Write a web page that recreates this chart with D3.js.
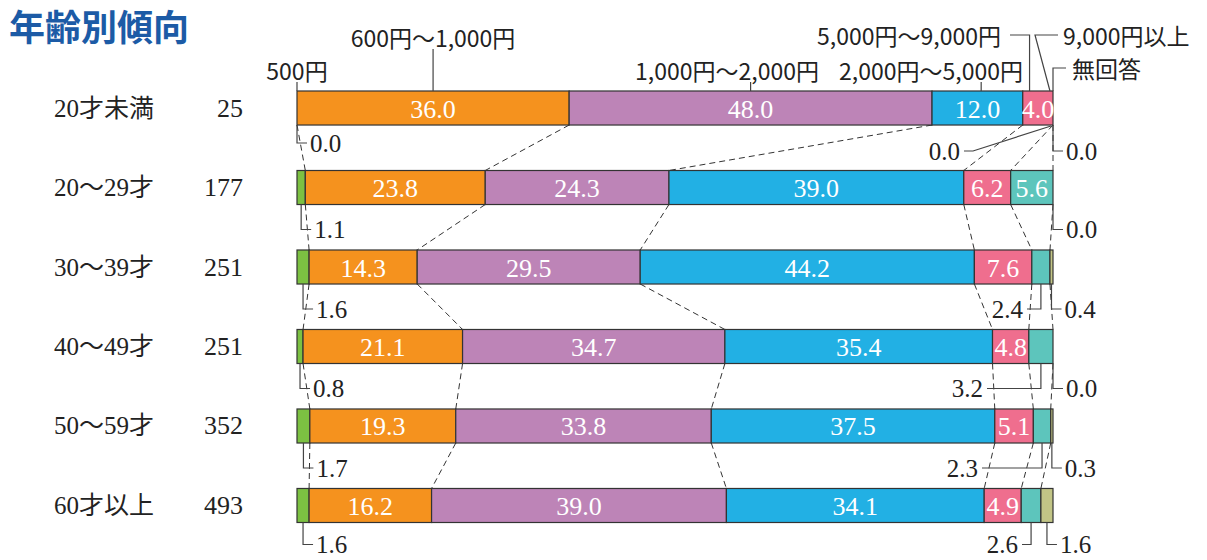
<!DOCTYPE html>
<html><head><meta charset="utf-8">
<script src="https://cdn.jsdelivr.net/npm/d3@7"></script>
<style>body{margin:0;background:#fff}</style>
</head><body>
<svg id="chart" width="1207" height="560"></svg>
<script>
// ---- data ----
const title = "年齢別傾向";
const rows = ["20才未満", "20～29才", "30～39才", "40～49才", "50～59才", "60才以上"];
const counts = [25, 177, 251, 251, 352, 493];
const seriesNames = ["500円", "600円～1,000円", "1,000円～2,000円", "2,000円～5,000円", "5,000円～9,000円", "9,000円以上", "無回答"];
const v500 = [0.0, 1.1, 1.6, 0.8, 1.7, 1.6];
const v600to1000 = [36.0, 23.8, 14.3, 21.1, 19.3, 16.2];
const v1000to2000 = [48.0, 24.3, 29.5, 34.7, 33.8, 39.0];
const v2000to5000 = [12.0, 39.0, 44.2, 35.4, 37.5, 34.1];
const v5000to9000 = [4.0, 6.2, 7.6, 4.8, 5.1, 4.9];
const v9000plus = [0.0, 5.6, 2.4, 3.2, 2.3, 2.6];
const vNoAnswer = [0.0, 0.0, 0.4, 0.0, 0.3, 1.6];
const seriesValues = [v500, v600to1000, v1000to2000, v2000to5000, v5000to9000, v9000plus, vNoAnswer];

// ---- styles / layout ----
const colors = ["#7cc142", "#f5921e", "#bd84b7", "#22b0e4", "#ef6e8e", "#5dc5bc", "#c2c586"];
const serif = "'Liberation Serif', 'Noto Sans CJK JP', serif";
const sans = "'Noto Sans CJK JP', 'Noto Sans', sans-serif";

// header legend labels: text position + leader (leader target in % of scale)
const headerLayout = [
  {tx: 297, ty: 70, anchor: "middle", kind: "v", pct: 0, top: 82},
  {tx: 433, ty: 37, anchor: "middle", kind: "v", pct: 18, top: 49},
  {tx: 727, ty: 70, anchor: "middle", kind: "v", pct: 60, top: 82},
  {tx: 931, ty: 70, anchor: "middle", kind: "v", pct: 90.5, top: 82},
  {tx: 1001, ty: 35, anchor: "end", kind: "elbowL", pct: 96.9, hx: 1010},
  {tx: 1063, ty: 35, anchor: "start", kind: "diag", pct: 99.6, hx: 1058, bx: 1035},
  {tx: 1072, ty: 68, anchor: "start", kind: "elbowR", pct: 100, hx: 1066}
];
// small value callouts below bars
const callouts = [
  {row: 0, s: 0, type: "right", dy: 18},
  {row: 1, s: 0, type: "right", dy: 25},
  {row: 2, s: 0, type: "right", dy: 25},
  {row: 3, s: 0, type: "right", dy: 25},
  {row: 4, s: 0, type: "right", dy: 25},
  {row: 5, s: 0, type: "right", dy: 22},
  {row: 0, s: 5, type: "diag", dy: 26, tx: 960, bx: 973},
  {row: 2, s: 5, type: "left", dy: 25, tx: 1023},
  {row: 3, s: 5, type: "left", dy: 25, tx: 983},
  {row: 4, s: 5, type: "left", dy: 25, tx: 978},
  {row: 5, s: 5, type: "left", dy: 22, tx: 1018},
  {row: 0, s: 6, type: "right", dy: 26},
  {row: 1, s: 6, type: "right", dy: 25},
  {row: 2, s: 6, type: "right", dy: 25},
  {row: 3, s: 6, type: "right", dy: 25},
  {row: 4, s: 6, type: "right", dy: 25},
  {row: 5, s: 6, type: "right", dy: 22}
];

const svg = d3.select("#chart");
svg.append("rect").attr("width", 1207).attr("height", 560).attr("fill", "#fff");

const x = d3.scaleLinear().domain([0, 100]).range([297, 1053]);
const y = d3.scaleBand().domain(rows).range([91, 522.5]).paddingInner(0.572).paddingOuter(0);
const bw = y.bandwidth();

const table = rows.map((r, i) => {
  const o = {row: r};
  seriesNames.forEach((s, k) => o[s] = seriesValues[k][i]);
  return o;
});
const stack = d3.stack().keys(seriesNames)(table);

// title
svg.append("text").attr("x", 9).attr("y", 25)
  .attr("dominant-baseline", "central")
  .attr("font-family", sans).attr("font-weight", 700).attr("font-size", 36)
  .attr("fill", "#1c5ba6").text(title);

// dashed connectors
const conn = svg.append("g").attr("stroke", "#333").attr("stroke-width", 1)
  .attr("stroke-dasharray", "6,4").attr("fill", "none");
for (let i = 0; i < rows.length - 1; i++) {
  for (let k = 0; k < seriesNames.length - 1; k++) {
    conn.append("line")
      .attr("x1", x(stack[k][i][1])).attr("y1", y(rows[i]) + bw)
      .attr("x2", x(stack[k][i + 1][1])).attr("y2", y(rows[i + 1]));
  }
}

// bars
const layers = svg.append("g").selectAll("g").data(stack).join("g")
  .attr("fill", (d, k) => colors[k]);
layers.selectAll("rect").data(d => d).join("rect")
  .attr("x", d => x(d[0])).attr("y", d => y(d.data.row))
  .attr("width", d => Math.max(0, x(d[1]) - x(d[0]))).attr("height", bw)
  .attr("stroke", "#333").attr("stroke-width", 1.2);

// inside labels
stack.forEach((layer, k) => {
  if (k === 0) return;
  layer.forEach((d, i) => {
    const v = seriesValues[k][i];
    if (v < 4) return;
    svg.append("text")
      .attr("x", x((d[0] + d[1]) / 2)).attr("y", y(rows[i]) + bw / 2 + 1)
      .attr("text-anchor", "middle").attr("dominant-baseline", "central")
      .attr("font-family", serif).attr("font-size", 26).attr("fill", "#fff")
      .text(v.toFixed(1));
  });
});

// row labels + counts
rows.forEach((r, i) => {
  const cy = y(r) + bw / 2;
  svg.append("text").attr("x", 54).attr("y", cy).attr("dominant-baseline", "central")
    .attr("font-family", serif).attr("font-size", 25).attr("fill", "#222").text(r);
  svg.append("text").attr("x", 243).attr("y", cy).attr("dominant-baseline", "central")
    .attr("text-anchor", "end")
    .attr("font-family", serif).attr("font-size", 26).attr("fill", "#222").text(counts[i]);
});

// header legend labels
const lead = svg.append("g").attr("stroke", "#444").attr("stroke-width", 1.2).attr("fill", "none");
const barTop = y(rows[0]);
headerLayout.forEach((h, k) => {
  svg.append("text").attr("x", h.tx).attr("y", h.ty).attr("text-anchor", h.anchor)
    .attr("dominant-baseline", "central")
    .attr("font-family", sans).attr("font-size", 23).attr("fill", "#222")
    .text(seriesNames[k]);
  const ax = x(h.pct);
  let p;
  if (h.kind === "v") p = `M${ax},${h.top}V${barTop}`;
  else if (h.kind === "elbowL") p = `M${h.hx},${h.ty}H${ax}V${barTop}`;
  else if (h.kind === "diag") p = `M${h.hx},${h.ty}H${h.bx}L${ax},${barTop}`;
  else p = `M${h.hx},${h.ty}H${ax}V${barTop}`;
  lead.append("path").attr("d", p);
});

// callouts
callouts.forEach(c => {
  const d = stack[c.s][c.row];
  const ax = x((d[0] + d[1]) / 2);
  const bb = y(rows[c.row]) + bw;
  const ty = bb + c.dy;
  let p, tx, anchor;
  if (c.type === "right") { p = `M${ax},${bb}V${ty}H${ax + 10}`; tx = ax + 13; anchor = "start"; }
  else if (c.type === "left") { p = `M${ax},${bb}V${ty}H${c.tx + 4}`; tx = c.tx; anchor = "end"; }
  else { p = `M${ax - 2},${bb + 1}L${c.bx},${ty}H${c.tx + 4}`; tx = c.tx; anchor = "end"; }
  lead.append("path").attr("d", p);
  svg.append("text").attr("x", tx).attr("y", ty).attr("text-anchor", anchor)
    .attr("dominant-baseline", "central")
    .attr("font-family", serif).attr("font-size", 25).attr("fill", "#222")
    .text(seriesValues[c.s][c.row].toFixed(1));
});
</script>
</body></html>
